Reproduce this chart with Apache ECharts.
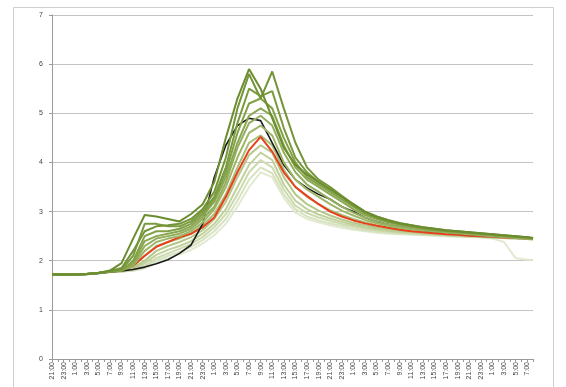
<!DOCTYPE html>
<html><head><meta charset="utf-8">
<script src="https://cdn.jsdelivr.net/npm/echarts@6/dist/echarts.min.js"></script>
<style>html,body{margin:0;padding:0;background:#fff}#c{width:566px;height:387px}</style>
</head><body><div id="c"></div>
<script>
// hourly categories 21:00 (day 0) .. 8:00 (day 4)
const hours = ["21:00","22:00","23:00",
"0:00","1:00","2:00","3:00","4:00","5:00","6:00","7:00","8:00","9:00","10:00","11:00","12:00","13:00","14:00","15:00","16:00","17:00","18:00","19:00","20:00","21:00","22:00","23:00",
"0:00","1:00","2:00","3:00","4:00","5:00","6:00","7:00","8:00","9:00","10:00","11:00","12:00","13:00","14:00","15:00","16:00","17:00","18:00","19:00","20:00","21:00","22:00","23:00",
"0:00","1:00","2:00","3:00","4:00","5:00","6:00","7:00","8:00","9:00","10:00","11:00","12:00","13:00","14:00","15:00","16:00","17:00","18:00","19:00","20:00","21:00","22:00","23:00",
"0:00","1:00","2:00","3:00","4:00","5:00","6:00","7:00","8:00"];
// category index of each sample
const sampleHours = [0,2,4,6,8,10,12,14,16,18,20,22,24,26,28,30,32,34,36,38,40,42,44,46,48,50,52,54,56,58,60,62,64,66,68,70,72,74,76,78,80,82,83];
const yTicks = [0,1,2,3,4,5,6,7];

const g1 = [1.72,1.72,1.72,1.73,1.75,1.8, 1.95,2.45,2.93,2.9,2.85,2.8,2.95,3.15,3.6,4.5,5.3,5.9,5.5,4.9,4.3,3.95,3.75,3.6,3.45,3.3,3.15,3.0,2.9, 2.82,2.76,2.72,2.68,2.65,2.62,2.6,2.58,2.56,2.54,2.52,2.5,2.48,2.46];
const g2 = [1.72,1.72,1.72,1.73,1.75,1.79, 1.85,2.2,2.6,2.7,2.72,2.75,2.85,3.05,3.4,4.1,5.1,5.8,5.3,5.85,5.1,4.4,3.9,3.65,3.5,3.32,3.15,3.0,2.9, 2.83,2.77,2.72,2.68,2.65,2.62,2.6,2.58,2.56,2.54,2.52,2.5,2.48,2.46];
const g3 = [1.72,1.72,1.72,1.73,1.75,1.78, 1.82,2.1,2.75,2.75,2.7,2.7,2.8,3.0,3.3,3.9,4.8,5.5,5.35,5.45,4.7,4.1,3.8,3.6,3.45,3.3,3.12,2.98,2.88, 2.8,2.75,2.71,2.67,2.64,2.61,2.59,2.57,2.55,2.53,2.51,2.49,2.47,2.45];
const g4 = [1.72,1.72,1.72,1.73,1.75,1.78, 1.8,2.0,2.5,2.6,2.6,2.65,2.75,2.95,3.25,3.8,4.6,5.2,5.3,5.1,4.5,4.0,3.7,3.55,3.4,3.25,3.1,2.97,2.87, 2.8,2.74,2.7,2.66,2.63,2.61,2.59,2.57,2.55,2.53,2.51,2.49,2.47,2.45];
const g5 = [1.72,1.72,1.72,1.73,1.75,1.78, 1.8,1.95,2.4,2.5,2.55,2.6,2.7,2.9,3.2,3.7,4.4,4.95,5.1,4.95,4.35,3.9,3.65,3.5,3.35,3.2,3.05,2.93,2.85, 2.78,2.73,2.69,2.65,2.62,2.6,2.58,2.56,2.54,2.52,2.5,2.48,2.46,2.45];
const g6 = [1.72,1.72,1.72,1.73,1.75,1.78, 1.8,1.92,2.3,2.45,2.5,2.55,2.65,2.85,3.1,3.6,4.3,4.8,4.95,4.75,4.2,3.8,3.55,3.4,3.25,3.1,2.98,2.88,2.8, 2.74,2.7,2.67,2.64,2.61,2.59,2.57,2.55,2.53,2.51,2.49,2.47,2.45,2.44];
const g7 = [1.72,1.72,1.72,1.73,1.75,1.78, 1.8,1.9,2.2,2.38,2.45,2.5,2.6,2.78,3.05,3.5,4.1,4.6,4.75,4.55,4.0,3.65,3.45,3.3,3.15,3.02,2.92,2.83,2.76, 2.71,2.67,2.64,2.62,2.6,2.58,2.56,2.54,2.52,2.5,2.48,2.46,2.45,2.44];
const g8 = [1.72,1.72,1.72,1.73,1.75,1.78, 1.79,1.88,2.1,2.3,2.38,2.45,2.55,2.72,2.95,3.35,3.9,4.4,4.55,4.35,3.85,3.5,3.3,3.15,3.03,2.93,2.85,2.78,2.72, 2.68,2.65,2.62,2.6,2.58,2.56,2.54,2.52,2.5,2.49,2.47,2.46,2.45,2.44];
const g9 = [1.72,1.72,1.72,1.73,1.75,1.77, 1.79,1.85,2.0,2.2,2.3,2.38,2.48,2.62,2.85,3.2,3.7,4.15,4.35,4.2,3.7,3.35,3.15,3.02,2.92,2.84,2.77,2.72,2.67, 2.64,2.61,2.59,2.57,2.55,2.54,2.52,2.51,2.5,2.48,2.47,2.46,2.45,2.44];
const g10 = [1.72,1.72,1.72,1.73,1.75,1.77, 1.78,1.83,1.95,2.12,2.22,2.3,2.4,2.55,2.75,3.05,3.5,3.95,4.2,4.05,3.55,3.22,3.05,2.94,2.86,2.79,2.73,2.68,2.64, 2.61,2.59,2.57,2.55,2.54,2.52,2.51,2.5,2.49,2.47,2.46,2.45,2.44,2.43];
const g11 = [1.72,1.72,1.72,1.73,1.75,1.77, 1.78,1.82,1.9,2.05,2.15,2.24,2.34,2.48,2.68,2.95,3.35,3.8,4.05,3.9,3.45,3.12,2.97,2.88,2.81,2.75,2.7,2.65,2.62, 2.59,2.57,2.56,2.54,2.53,2.52,2.5,2.49,2.48,2.47,2.46,2.45,2.44,2.43];
const g12 = [1.72,1.72,1.72,1.73,1.75,1.77, 1.78,1.8,1.87,2.0,2.1,2.18,2.28,2.42,2.6,2.85,3.22,3.65,3.9,3.78,3.35,3.05,2.9,2.82,2.76,2.71,2.66,2.62,2.59, 2.57,2.55,2.54,2.53,2.52,2.51,2.5,2.49,2.48,2.47,2.46,2.45,2.44,2.43];
const g13 = [1.72,1.72,1.72,1.73,1.75,1.77, 1.78,1.79,1.84,1.95,2.05,2.13,2.22,2.35,2.52,2.75,3.1,3.5,3.8,3.7,3.28,2.98,2.85,2.78,2.72,2.67,2.63,2.6,2.57, 2.55,2.54,2.53,2.52,2.51,2.5,2.49,2.48,2.47,2.45,2.38,2.05,2.02,2.02];
const red = [1.72,1.72,1.72,1.73,1.75,1.78, 1.8,1.9,2.1,2.28,2.38,2.48,2.55,2.68,2.88,3.3,3.8,4.25,4.52,4.22,3.8,3.5,3.32,3.15,3.0,2.9,2.82,2.76,2.71, 2.67,2.63,2.6,2.58,2.56,2.54,2.53,2.51,2.5,2.49,2.47,2.46,2.45,2.45];
const black = [1.72,1.72,1.72,1.72,1.74,1.77, 1.79,1.82,1.87,1.94,2.02,2.15,2.32,2.75,3.7,4.35,4.75,4.9,4.85,4.4,3.95,3.65,3.48,3.35,3.25,3.1,3.0,2.88,2.8, 2.74,2.69,2.65,2.62,2.6,2.58,2.56,2.54,2.52,2.5,2.49,2.48,2.47,2.46];

const greens = [g1,g2,g3,g4,g5,g6,g7,g8,g9,g10,g11,g12,g13];
const greenColors = ['#6b8c2f','#739437','#7a9a3e','#82a147','#8aa851','#93ae5c','#9db668','#a8bf78','#b4c88a','#c0d19b','#ccdaae','#d7e2c0','#e1e9d0'];

function mk(vals, color, width, z) {
  return {type:'line', data: sampleHours.map((h,i)=>[h, vals[i]]), showSymbol:false, symbol:'none',
    lineStyle:{color:color, width:width}, itemStyle:{color:color}, z:z, animation:false, silent:true};
}
const series = [];
for (let i = greens.length-1; i >= 7; i--) series.push(mk(greens[i], greenColors[i], 2, 2));
series.push(mk(red, '#e8401c', 2, 3));
series.push(mk(black, '#1a1a1a', 1.6, 3));
for (let i = 6; i >= 0; i--) series.push(mk(greens[i], greenColors[i], 2, 4));

const chart = echarts.init(document.getElementById('c'), null, {renderer:'canvas'});
chart.setOption({
  animation:false,
  backgroundColor:'#fff',
  graphic:[{type:'rect', shape:{x:13.5,y:7.5,width:540,height:400}, style:{fill:'none', stroke:'#cfcfcf', lineWidth:1}, z:-1}],
  grid:{left:52, right:33, top:15, bottom:28},
  xAxis:{type:'category', data:hours, boundaryGap:false,
    axisLine:{lineStyle:{color:'#9a9a9a'}},
    axisTick:{interval:0, length:3, lineStyle:{color:'#9a9a9a'}},
    axisLabel:{interval:1, rotate:90, fontSize:7, color:'#444', margin:3, fontFamily:'Liberation Sans'},
    splitLine:{show:false}},
  yAxis:{type:'value', min:yTicks[0], max:yTicks[yTicks.length-1], interval:1,
    axisLine:{show:true, lineStyle:{color:'#9a9a9a'}},
    axisTick:{show:true, length:3, lineStyle:{color:'#9a9a9a'}},
    axisLabel:{fontSize:7, color:'#444', margin:9, fontFamily:'Liberation Sans'},
    splitLine:{lineStyle:{color:'#c4c4c4'}}},
  series: series
});
</script></body></html>
